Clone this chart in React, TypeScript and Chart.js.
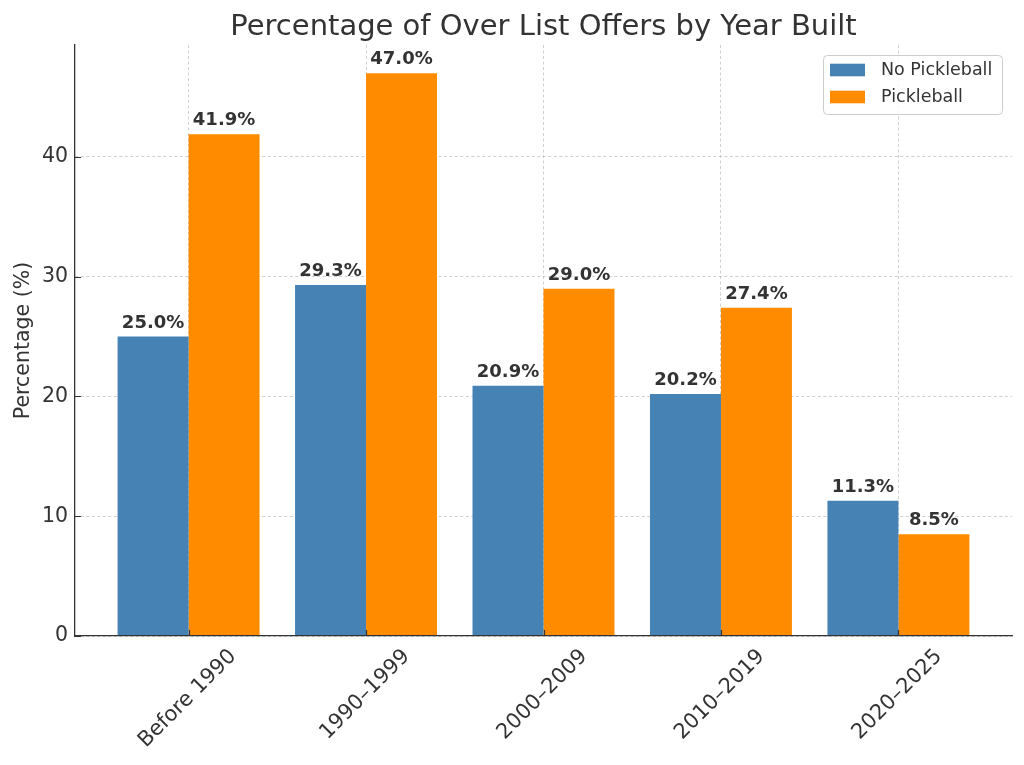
import React, { useEffect, useRef } from "react";
import { Chart, registerables } from "chart.js";

Chart.register(...registerables);

const categories = ["Before 1990", "1990–1999", "2000–2009", "2010–2019", "2020–2025"];
const seriesLabels = ["No Pickleball", "Pickleball"];
const noPickleball = [25.0, 29.3, 20.9, 20.2, 11.3];
const pickleball = [41.9, 47.0, 29.0, 27.4, 8.5];
const seriesColors = ["#4682B4", "#FF8C00"];
const yTicks = [0, 10, 20, 30, 40];
const yMax = 49.35;
const xMin = -0.64;
const xMax = 4.64;

const FONT = "'DejaVu Sans', 'Liberation Sans', sans-serif";
const TEXT = "#333333";

const overlayPlugin = {
  id: "overlay",
  afterDatasetsDraw(chart: any) {
    const ctx = chart.ctx;
    ctx.save();
    ctx.font = `bold 18px ${FONT}`;
    ctx.fillStyle = TEXT;
    ctx.textAlign = "center";
    ctx.textBaseline = "alphabetic";
    chart.data.datasets.forEach((ds: any, di: number) => {
      const meta = chart.getDatasetMeta(di);
      meta.data.forEach((el: any, i: number) => {
        const v = ds.data[i].y;
        ctx.fillText(`${v.toFixed(1)}%`, el.x, el.y - 9);
      });
    });
    ctx.restore();
  },
  afterDraw(chart: any) {
    const ctx = chart.ctx;
    const area = chart.chartArea;
    const xs = chart.scales.x;
    const ys = chart.scales.y;
    ctx.save();
    // inward tick marks
    ctx.strokeStyle = TEXT;
    ctx.lineWidth = 1.2;
    ctx.beginPath();
    yTicks.forEach((v) => {
      const py = Math.round(ys.getPixelForValue(v)) + 0.5;
      ctx.moveTo(area.left, py);
      ctx.lineTo(area.left + 6, py);
    });
    categories.forEach((_, i) => {
      const px = Math.round(xs.getPixelForValue(i)) + 0.5;
      ctx.moveTo(px, area.bottom);
      ctx.lineTo(px, area.bottom - 6);
    });
    ctx.stroke();

    // rotated x labels, centered on tick
    const fs = 21;
    ctx.font = `${fs}px ${FONT}`;
    ctx.fillStyle = TEXT;
    ctx.textAlign = "center";
    ctx.textBaseline = "middle";
    categories.forEach((label, i) => {
      const px = xs.getPixelForValue(i);
      const w = ctx.measureText(label).width;
      const h = fs * 1.164;
      const half = ((w + h) * Math.SQRT1_2) / 2;
      const cy = area.bottom + 8.5 + half;
      ctx.save();
      ctx.translate(px - 1, cy);
      ctx.rotate(-Math.PI / 4);
      ctx.fillText(label, 0, 0);
      ctx.restore();
    });

    // legend
    const bw = 179;
    const bh = 59;
    const bx = area.right - 10 - bw;
    const by = area.top + 10;
    ctx.beginPath();
    if (ctx.roundRect) ctx.roundRect(bx + 0.5, by + 0.5, bw, bh, 4);
    else ctx.rect(bx + 0.5, by + 0.5, bw, bh);
    ctx.fillStyle = "rgba(255,255,255,0.85)";
    ctx.fill();
    ctx.strokeStyle = "#cccccc";
    ctx.lineWidth = 1;
    ctx.stroke();
    ctx.font = `17.5px ${FONT}`;
    ctx.textAlign = "left";
    ctx.textBaseline = "middle";
    chart.data.datasets.forEach((ds: any, di: number) => {
      const cy = by + 15 + di * 27;
      ctx.fillStyle = ds.backgroundColor;
      ctx.fillRect(bx + 7, cy - 6.3, 35, 12.6);
      ctx.fillStyle = TEXT;
      ctx.fillText(ds.label, bx + 58, cy);
    });
    ctx.restore();
  },
};

export default function App() {
  const ref = useRef<HTMLCanvasElement | null>(null);
  useEffect(() => {
    if (!ref.current) return;
    Chart.defaults.font.family = FONT;
    const chart = new Chart(ref.current, {
      type: "bar",
      data: {
        datasets: [
          {
            label: seriesLabels[0],
            data: noPickleball.map((v, i) => ({ x: i, y: v })),
            backgroundColor: seriesColors[0],
            borderWidth: 0,
          },
          {
            label: seriesLabels[1],
            data: pickleball.map((v, i) => ({ x: i, y: v })),
            backgroundColor: seriesColors[1],
            borderWidth: 0,
          },
        ],
      },
      options: {
        animation: false,
        responsive: true,
        maintainAspectRatio: false,
        devicePixelRatio: 1,
        layout: { padding: { left: 0, right: 12, top: 0, bottom: 0 } },
        datasets: { bar: { categoryPercentage: 0.8, barPercentage: 1.0 } },
        plugins: {
          legend: { display: false },
          tooltip: { enabled: false },
          title: {
            display: true,
            text: "Percentage of Over List Offers by Year Built",
            color: TEXT,
            font: { size: 29, weight: "normal", family: FONT },
            padding: { top: 10.2, bottom: 0 },
            fullSize: false,
          },
        },
        scales: {
          x: {
            type: "linear",
            min: xMin,
            max: xMax,
            offset: false,
            afterBuildTicks: (scale: any) => {
              scale.ticks = categories.map((_, i) => ({ value: i }));
            },
            afterFit: (scale: any) => {
              scale.height = 129;
            },
            ticks: { display: false },
            grid: {
              offset: false,
              color: "rgba(176,176,176,0.75)",
              lineWidth: 0.8,
              drawTicks: false,
            },
            border: { display: true, color: TEXT, width: 1.3, dash: [3, 2.5], z: 1 },
          },
          y: {
            type: "linear",
            min: 0,
            max: yMax,
            afterBuildTicks: (scale: any) => {
              scale.ticks = yTicks.map((v) => ({ value: v }));
            },
            afterFit: (scale: any) => {
              scale.width = 75;
            },
            ticks: {
              color: TEXT,
              font: { size: 20.5, family: FONT },
              padding: 7,
              callback: (v: any) => String(v),
            },
            grid: {
              color: "rgba(176,176,176,0.75)",
              lineWidth: 0.8,
              drawTicks: false,
            },
            border: { display: true, color: TEXT, width: 1.3, dash: [3, 2.5], z: 1 },
            title: {
              display: true,
              text: "Percentage (%)",
              color: TEXT,
              font: { size: 20.5, family: FONT },
              padding: { top: 11.5, bottom: 0 },
            },
          },
        },
      },
      plugins: [overlayPlugin],
    } as any);
    return () => chart.destroy();
  }, []);
  return (
    <div style={{ position: "absolute", left: 0, top: 0, width: 1024, height: 765, background: "#fff" }}>
      <canvas ref={ref} />
    </div>
  );
}
